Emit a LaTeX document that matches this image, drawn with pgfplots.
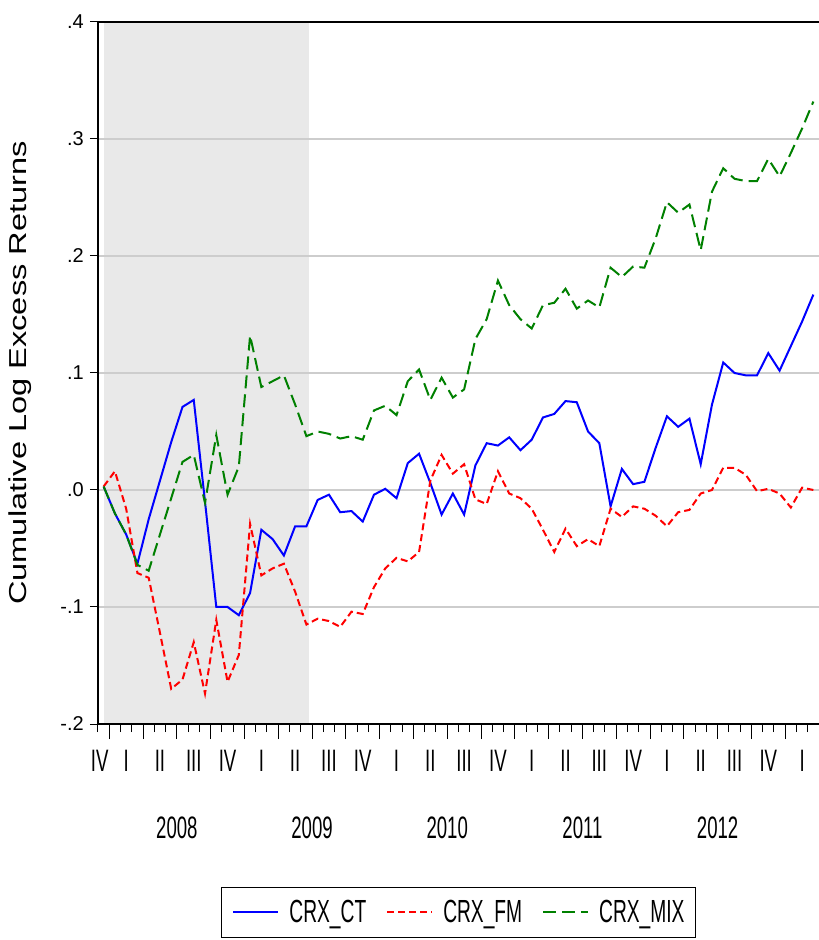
\documentclass[border=0pt]{standalone}
\usepackage{pgfplots}
\usepackage{pgfplotstable}
\pgfplotsset{compat=1.18}
\usepackage{fontspec}
\setmainfont{Liberation Sans}
\newfontfamily\narrowfont[FakeStretch=0.6]{Liberation Sans}
\newfontfamily\widefont[FakeStretch=1.33]{Liberation Sans}
\definecolor{shade}{RGB}{233,233,233}
\definecolor{gridc}{RGB}{205,205,205}
\definecolor{evblue}{RGB}{0,0,255}
\definecolor{evred}{RGB}{255,0,0}
\definecolor{evgreen}{RGB}{0,128,0}
\newcommand\yrfont{\narrowfont\fontsize{31}{36}\selectfont}
\newcommand\legfont{\narrowfont\fontsize{32}{36}\selectfont}

\pgfplotstableread{
x ct fm mix
0 0.003 0.003 0.003
1 -0.020 0.016 -0.020
2 -0.038 -0.016 -0.038
3 -0.063 -0.071 -0.064
4 -0.025 -0.075 -0.069
5 0.008 -0.122 -0.038
6 0.041 -0.170 -0.007
7 0.071 -0.162 0.024
8 0.077 -0.130 0.030
9 -0.010 -0.174 -0.011
10 -0.100 -0.111 0.047
11 -0.100 -0.164 -0.004
12 -0.107 -0.141 0.020
13 -0.088 -0.029 0.132
14 -0.034 -0.073 0.088
15 -0.042 -0.067 0.093
16 -0.056 -0.063 0.098
17 -0.031 -0.087 0.073
18 -0.031 -0.115 0.046
19 -0.0085 -0.110 0.050
20 -0.004 -0.112 0.048
21 -0.019 -0.117 0.044
22 -0.018 -0.104 0.046
23 -0.027 -0.106 0.043
24 -0.004 -0.083 0.068
25 0.001 -0.067 0.072
26 -0.007 -0.058 0.064
27 0.023 -0.061 0.093
28 0.031 -0.053 0.103
29 0.006 0.008 0.077
30 -0.021 0.030 0.096
31 -0.003 0.014 0.079
32 -0.021 0.022 0.086
33 0.021 -0.008 0.129
34 0.040 -0.012 0.146
35 0.038 0.016 0.179
36 0.045 -0.003 0.158
37 0.034 -0.007 0.146
38 0.043 -0.016 0.138
39 0.062 -0.034 0.158
40 0.065 -0.053 0.160
41 0.076 -0.033 0.172
42 0.075 -0.048 0.155
43 0.050 -0.042 0.162
44 0.040 -0.048 0.156
45 -0.014 -0.016 0.190
46 0.018 -0.023 0.182
47 0.005 -0.014 0.191
48 0.007 -0.016 0.190
49 0.036 -0.022 0.215
50 0.063 -0.031 0.246
51 0.054 -0.019 0.237
52 0.061 -0.017 0.244
53 0.022 -0.003 0.205
54 0.073 0.000 0.255
55 0.109 0.019 0.275
56 0.100 0.019 0.266
57 0.098 0.013 0.264
58 0.098 -0.001 0.264
59 0.117 0.001 0.283
60 0.102 -0.003 0.268
61 0.123 -0.015 0.288
62 0.144 0.002 0.309
63 0.167 0.000 0.332
}\crx

\pgfplotstableread{
x y
0 -0.2
0 0.4
18.2 0.4
18.2 -0.2
}\shadetab

\begin{document}
\begin{tikzpicture}
\begin{axis}[
  set layers,
  scale only axis,
  width=721pt, height=702pt,
  xmin=-0.5, xmax=63.5, ymin=-0.2, ymax=0.4,
  clip=false,
  axis line style={draw=none},
  tick align=outside,
  xtick pos=left, ytick pos=left,
  tick style={black, line width=1pt},
  major tick length=15pt,
  minor tick length=8pt,
  xtick={0.5,3.5,...,60.5},
  xticklabels={},
  minor xtick={-0.5,0.5,...,63.5},
  ytick=\empty,
  extra y ticks={-0.2,-0.1,0,0.1,0.2,0.3,0.4},
  extra y tick labels={-.2,-.1,.0,.1,.2,.3,.4},
  extra y tick style={major tick length=8pt, ymajorgrids=true,
     tick label style={font=\fontsize{20}{24}\selectfont, inner sep=0pt, xshift=-6pt}},
  grid style={gridc, line width=1.3pt},
  extra x ticks={-0.35,2,5,8,11,14,17,20,23,26,29,32,35,38,41,44,47,50,53,56,59,62},
  extra x tick labels={IV,I,II,III,IV,I,II,III,IV,I,II,III,IV,I,II,III,IV,I,II,III,IV,I},
  extra x tick style={major tick length=0pt,
     tick label style={font=\yrfont, inner sep=0pt, anchor=base, yshift=-47pt}},
  ylabel={Cumulative Log Excess Returns},
  every axis y label/.style={at={(rel axis cs:0,0.5)}, xshift=-78pt, rotate=90, anchor=center,
     font=\widefont\fontsize{24.5}{28}\selectfont},
  legend columns=3,
  legend style={at={(0.5,-0.232)}, anchor=north, draw=black, line width=1pt,
     font=\legfont,
     inner xsep=11pt, inner ysep=13pt,
     nodes={inner sep=0pt},
     /tikz/every odd column/.append style={column sep=10pt},
     /tikz/every even column/.append style={column sep=20pt}},
  legend image code/.code={\draw[#1] (0pt,0pt) -- (45pt,0pt);},
]
\addplot[draw=none, fill=shade, on layer=axis background, forget plot] table[x=x,y=y] {\shadetab};
\addplot[evblue, line width=2pt] table[x=x,y=ct] {\crx};
\addlegendentry{CRX\_CT}
\addplot[evred, line width=2pt, dash pattern=on 7pt off 4pt] table[x=x,y=fm] {\crx};
\addlegendentry{CRX\_FM}
\addplot[evgreen, line width=2pt, dash pattern=on 13pt off 6pt] table[x=x,y=mix] {\crx};
\addlegendentry{CRX\_MIX}
\draw[line width=1.5pt, black] (rel axis cs:1,1) -- (rel axis cs:0,1) -- (rel axis cs:0,0) -- (rel axis cs:1,0);
\node[font=\yrfont, anchor=base, inner sep=0pt, yshift=-114pt] at (axis cs:6.5,-0.2) {2008};
\node[font=\yrfont, anchor=base, inner sep=0pt, yshift=-114pt] at (axis cs:18.5,-0.2) {2009};
\node[font=\yrfont, anchor=base, inner sep=0pt, yshift=-114pt] at (axis cs:30.5,-0.2) {2010};
\node[font=\yrfont, anchor=base, inner sep=0pt, yshift=-114pt] at (axis cs:42.5,-0.2) {2011};
\node[font=\yrfont, anchor=base, inner sep=0pt, yshift=-114pt] at (axis cs:54.5,-0.2) {2012};
\coordinate (bl) at (rel axis cs:0,0);
\end{axis}
\pgfresetboundingbox
\path (bl) ++(-98pt,-216pt) rectangle ++(819pt,940pt);
\end{tikzpicture}
\end{document}
